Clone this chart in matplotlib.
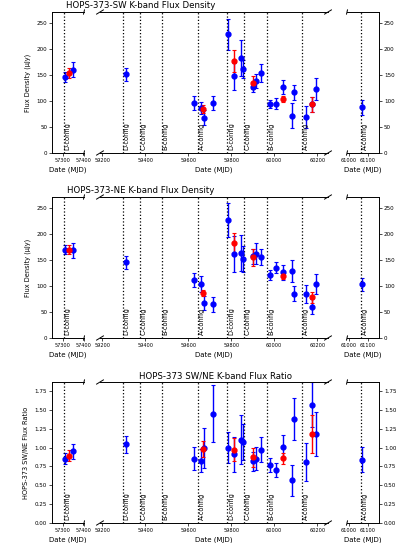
import matplotlib
matplotlib.use("Agg")
import matplotlib.pyplot as plt
from matplotlib.transforms import offset_copy

# config boundaries (VLA array configurations)
config_mjd = [57304, 59296, 59376, 59477, 59644, 59781, 59860, 59966, 60127, 61064]
config_names = ['D-config', 'D-config', 'C-config', 'B-config', 'A-config',
                'D-config', 'C-config', 'B-config', 'A-config', 'A-config']

# individual epochs
mjd = [57312, 57350, 59311, 59628, 59658, 59673, 59714, 59786, 59814, 59844, 59856, 59901,
       59916, 59938, 59980, 60009, 60041, 60083, 60092, 60150, 60176, 60195, 61070]
sw_flux = [147, 161, 152, 96, 87, 68, 96, 229, 148, 183, 162, 128,
           139, 154, 94, 95, 127, 72, 117, 69, 94, 124, 88]
sw_err = [9.6, 14, 12.8, 13.5, 12, 14, 13, 30, 25.6, 35, 17.6, 9.6,
          13, 17.6, 8, 11, 13, 24, 14, 21, 14, 21, 14.4]
ne_flux = [170, 169, 145.5, 111, 104, 67, 65, 227, 161.5, 163.5, 151, 157,
           162, 156, 122, 135, 126, 128, 85, 85, 60, 104.5, 103]
ne_err = [8.7, 14.4, 12, 13, 15, 13, 14.4, 33, 34, 35, 25, 15,
          20.5, 15, 9.6, 10.6, 14, 21, 14, 17, 14, 19, 13]
ratio = [0.853, 0.95, 1.043, 0.853, 0.826, 1.0, 1.45, 1.0, 0.91, 1.105, 1.074, 0.817,
         0.853, 0.972, 0.769, 0.703, 1.007, 0.566, 1.383, 0.809, 1.569, 1.18, 0.84]
ratio_err = [0.075, 0.104, 0.117, 0.155, 0.152, 0.265, 0.376, 0.205, 0.232, 0.327, 0.243, 0.122,
             0.155, 0.166, 0.088, 0.097, 0.155, 0.205, 0.276, 0.252, 0.298, 0.292, 0.166]

# per-configuration averages
mjd_avg = [57332, 59667, 59814, 59902, 60041, 60174]
sw_avg = [154, 85, 178, 136, 104, 94]
sw_avg_err = [9.6, 8, 21, 12, 6.4, 14]
ne_avg = [170, 86.5, 182, 155, 119, 78]
ne_avg_err = [8, 6.4, 20, 17, 6, 10]
ratio_avg = [0.893, 0.977, 0.972, 0.87, 0.857, 1.184]
ratio_avg_err = [0.073, 0.104, 0.152, 0.122, 0.071, 0.254]

xlims = [(57250, 57400), (59190, 60250), (60990, 61160)]
xticks = [[57300, 57400], [59200, 59400, 59600, 59800, 60000, 60200], [61000, 61100]]

W, H = 400, 543
cols = [(52, 32), (100, 228), (347, 32)]
panel_h = 141

fig = plt.figure(figsize=(W / 100, H / 100), dpi=100)


def draw_row(top, y, yerr, y2, y2err, ylim, ylabel, title, title_px):
    axes = []
    for (x0, w), xl, xt in zip(cols, xlims, xticks):
        ax = fig.add_axes([x0 / W, 1 - (top + panel_h) / H, w / W, panel_h / H])
        ax.errorbar(mjd, y, yerr=yerr, fmt='o', color='blue', ms=3.5,
                    elinewidth=1, capsize=1.5, capthick=0.8)
        ax.errorbar(mjd_avg, y2, yerr=y2err, fmt='o', color='red', ms=3.5,
                    elinewidth=1, capsize=1.5, capthick=0.8)
        for xm, name in zip(config_mjd, config_names):
            if xl[0] < xm < xl[1]:
                ax.axvline(xm, color='k', ls=':', lw=0.9)
                tr = offset_copy(ax.get_xaxis_transform(), fig=fig, x=1, y=0, units='dots')
                ax.text(xm, 0.02, name, transform=tr, rotation=90, ha='left',
                        va='bottom', fontsize=4.8)
        ax.set_xlim(xl)
        ax.set_ylim(ylim)
        ax.set_xticks(xt)
        ax.tick_params(axis='x', labelsize=3.6, length=2, width=0.5, pad=1.5)
        ax.tick_params(axis='y', labelsize=4.1, length=2, width=0.5, pad=1.5)
        ax.set_xlabel('Date (MJD)', fontsize=5, labelpad=2.5)
        for sp in ax.spines.values():
            sp.set_linewidth(0.7)
        axes.append(ax)

    a0, a1, a2 = axes
    a0.spines['right'].set_visible(False)
    a0.set_ylabel(ylabel, fontsize=4.8, labelpad=4)
    a1.spines['left'].set_visible(False)
    a1.spines['right'].set_visible(False)
    a1.tick_params(axis='y', left=False, labelleft=False)
    a2.spines['left'].set_visible(False)
    a2.yaxis.tick_right()

    # break marks
    d = .015
    kw = dict(color='k', clip_on=False, lw=0.7)
    a0.plot((1 - d, 1 + d), (-d, d), transform=a0.transAxes, **kw)
    a0.plot((1 - d, 1 + d), (1 - d, 1 + d), transform=a0.transAxes, **kw)
    for ax in (a1, a2):
        ax.plot((-d, d), (-d, d), transform=ax.transAxes, **kw)
        ax.plot((-d, d), (1 - d, 1 + d), transform=ax.transAxes, **kw)
    a1.plot((1 - d, 1 + d), (-d, d), transform=a1.transAxes, **kw)
    a1.plot((1 - d, 1 + d), (1 - d, 1 + d), transform=a1.transAxes, **kw)

    fig.text(title_px / W, 1 - (top - 3.8) / H, title, ha='center', va='baseline',
             fontsize=6.25)


draw_row(12, sw_flux, sw_err, sw_avg, sw_avg_err, (0, 272),
         'Flux Density (μJy)', 'HOPS-373-SW K-band Flux Density', 140.5)
draw_row(197, ne_flux, ne_err, ne_avg, ne_avg_err, (0, 271),
         'Flux Density (μJy)', 'HOPS-373-NE K-band Flux Density', 140.5)
draw_row(382, ratio, ratio_err, ratio_avg, ratio_avg_err, (0, 1.87),
         'HOPS-373 SW/NE Flux Ratio', 'HOPS-373 SW/NE K-band Flux Ratio', 215.5)

fig.savefig('out.png', dpi=100)
